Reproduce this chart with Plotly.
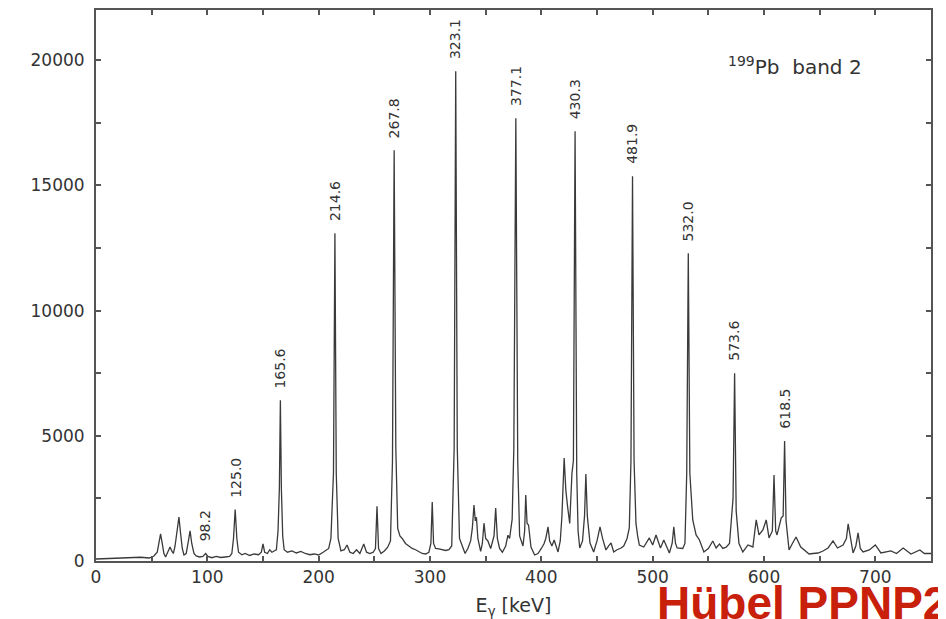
import plotly.graph_objects as go

# Spectrum: gamma energy (keV) and counts
energy = [0, 10, 20, 30, 40, 48, 52, 55,
          56.5, 58, 59.5, 61, 62.5, 64.5, 66.5, 68, 69.5, 71, 73, 74.5, 76, 77.5, 79, 81, 83, 84.5, 86, 88,
          90, 93, 96, 98.5, 100.5, 104, 108, 112, 116, 120, 122, 123.5, 125, 126.5, 128, 131, 134, 138, 142,
          146, 148.5, 150, 151.5, 154, 156, 158, 160, 162, 163.5, 164.7, 165.6, 166.5, 167.7, 169, 172, 176,
          180, 184, 188, 192, 196, 200, 204, 207, 209, 211, 213.3, 214.6, 215.8, 217.5, 220, 223, 225.5, 228,
          231, 234, 237, 240.5, 243, 246, 249, 251, 252.4, 253.8, 256, 259, 262, 264.5, 266.3, 267.8, 269.3,
          271, 273, 275, 278, 281, 284, 287, 290, 293, 296, 299, 300.8, 302, 303.2, 305, 308, 311, 314, 317,
          319.5, 321.7, 323.1, 324.5, 326.5, 329, 331.5, 334, 336.5, 338, 339.5, 340.7, 341.7, 343, 345.5, 347,
          348.5, 350, 352, 354.5, 357.5, 359, 360.5, 362.5, 365, 368, 370, 371.5, 373.8, 375.3, 377.1, 378.8,
          380.5, 383.5, 385, 386, 387.2, 388.5, 390.7, 394, 397, 400, 402.5, 404, 406, 407.5, 409.5, 411.5,
          413, 415, 417, 418.5, 420.5, 422, 423.5, 425.5, 427.5, 428.8, 430.3, 431.8, 433, 434.5, 437, 438.8,
          440, 441.3, 443.7, 447, 450, 452.7, 455, 458, 460.5, 462.6, 465, 468, 471.6, 474, 477, 479, 480.5,
          481.9, 483.3, 485, 486.5, 488, 492, 497, 500, 503, 507, 510, 515, 517.5, 519, 520.5, 522, 527, 529,
          530.6, 532.0, 533.4, 536, 539, 542, 546, 550, 554, 557, 560, 563, 566, 569, 572.2, 573.6, 575, 577.5,
          581, 585.6, 590, 593, 595.5, 599, 602, 604.5, 607.5, 609, 610.5, 611.7, 614, 615.5, 617.2, 618.5,
          619.8, 622.5, 625.5, 628.8, 633, 637, 640.5, 644, 648.5, 653, 657.5, 662, 666, 671, 674, 675.6,
          677.5, 680, 682.5, 684.5, 686.5, 689, 694.6, 700, 705, 710, 714, 719, 725, 732, 736, 740, 744, 748,
          750]
counts = [80, 100, 120, 140, 150, 120, 200, 350,
          700, 1080, 700, 300, 160, 350, 560, 400, 300, 600, 1200, 1750, 1100, 500, 240, 300, 800, 1200, 700, 300,
          200, 160, 180, 300, 180, 130, 180, 140, 160, 180, 300, 900, 2050, 900, 350, 250, 300, 220, 280,
          250, 350, 680, 350, 300, 450, 350, 400, 450, 1200, 2900, 6420, 2900, 1000, 450, 350, 400,
          320, 380, 300, 250, 280, 240, 350, 450, 500, 900, 3500, 13090, 3500, 900, 400, 450, 640, 350,
          300, 450, 300, 680, 350, 300, 350, 500, 2190, 500, 300, 400, 550, 800, 4000, 16400, 4500,
          1300, 1000, 900, 700, 600, 500, 450, 380, 300, 280, 350, 700, 2350, 700, 500, 480, 450, 420, 450,
          600, 4500, 19550, 4500, 900, 600, 300, 500, 800, 1300, 2230, 1600, 1750, 900, 380, 700,
          1510, 900, 800, 500, 1000, 2110, 900, 500, 350, 600, 1030, 900, 1670, 4500, 17680, 4000,
          1000, 600, 1200, 2630, 1500, 1440, 560, 240, 300, 500, 700, 900, 1360, 800, 600, 840,
          600, 360, 800, 1800, 4110, 2830, 2200, 1500, 3500, 4000, 17160, 3500, 1200, 520, 800, 1800,
          3470, 1800, 720, 360, 800, 1360, 900, 440, 600, 720, 360, 450, 520, 600, 900, 1320, 4000,
          15360, 4000, 1500, 1000, 640, 560, 920, 640, 1040, 520, 840, 320, 700, 1360, 700, 520, 500, 700,
          3500, 12290, 3500, 1640, 1040, 840, 360, 500, 800, 520, 680, 500, 550, 700, 2500, 7500, 2000, 700,
          360, 640, 560, 1640, 1040, 1240, 1640, 920, 1200, 3430, 1200, 1040, 1500, 1720, 1800, 4790,
          1600, 440, 700, 960, 560, 400, 280, 300, 320, 400, 520, 800, 520, 640, 900, 1480,
          900, 320, 600, 1120, 500, 360, 440, 640, 320, 350, 400, 300, 520, 280, 350, 440, 300, 320,
          300]

# Labelled band transitions (keV) and their peak heights
label_energy = [98.2, 125.0, 165.6, 214.6, 267.8, 323.1, 377.1, 430.3, 481.9, 532.0, 573.6, 618.5]
label_height = [300, 2050, 6420, 13090, 16400, 19550, 17680, 17160, 15360, 12290, 7500, 4790]
label_text = ["98.2", "125.0", "165.6", "214.6", "267.8", "323.1", "377.1", "430.3",
              "481.9", "532.0", "573.6", "618.5"]

x_ticks = [0, 100, 200, 300, 400, 500, 600, 700]
y_ticks = [0, 5000, 10000, 15000, 20000]

AX = "#555555"
TXT = "#333333"
FONT = "DejaVu Sans"

fig = go.Figure()
fig.add_trace(go.Scatter(
    x=energy, y=counts, mode="lines",
    line=dict(color="#3a3a3a", width=1.3),
    showlegend=False, hoverinfo="x+y",
))

for e, h, t in zip(label_energy, label_height, label_text):
    fig.add_annotation(
        x=e, y=h, text=t, textangle=-90, showarrow=False,
        xanchor="center", yanchor="bottom", yshift=10,
        font=dict(family=FONT, size=14, color=TXT),
    )

fig.add_annotation(
    x=566, y=19750, xref="x", yref="y", text="<sup>199</sup>Pb  band 2",
    showarrow=False, xanchor="left", yanchor="middle",
    font=dict(family=FONT, size=20, color=TXT),
)

fig.add_annotation(
    x=0.6695, y=-0.0254, xref="paper", yref="paper", text="<b>Hübel PPNP2</b>",
    showarrow=False, xanchor="left", yanchor="top",
    font=dict(family="Liberation Sans", size=46, color="#c8200a"),
)

axis_common = dict(
    showline=True, linecolor=AX, linewidth=2, mirror="ticks",
    ticks="inside", ticklen=5, tickwidth=1.5, tickcolor=AX,
    showgrid=False, zeroline=False,
    tickfont=dict(family=FONT, size=17, color=TXT),
)

fig.update_xaxes(
    range=[0, 750], tickvals=x_ticks,
    minor=dict(dtick=50, tick0=0, ticks="inside", ticklen=5, tickcolor=AX, showgrid=False),
    title=dict(text="E<sub>γ</sub> [keV]", font=dict(family=FONT, size=19, color=TXT), standoff=12),
    **axis_common,
)
fig.update_yaxes(
    range=[0, 22000], tickvals=y_ticks, tickformat="d",
    minor=dict(dtick=2500, tick0=0, ticks="inside", ticklen=5, tickcolor=AX, showgrid=False),
    ticklabelstandoff=6,
    **axis_common,
)

# page body adds an 8px offset, so the figure is sized to fill the window from there
fig.update_layout(
    width=938, height=611,
    margin=dict(l=88, r=15, t=2, b=58, autoexpand=False),
    paper_bgcolor="white", plot_bgcolor="white",
    font=dict(family=FONT, color=TXT),
)

fig.write_html("out.html")
